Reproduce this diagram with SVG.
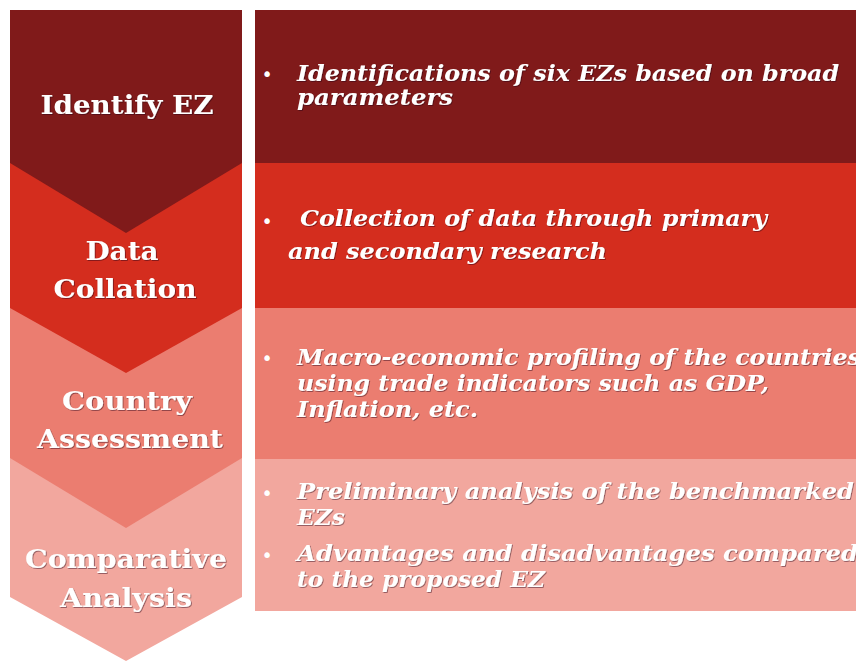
<svg xmlns="http://www.w3.org/2000/svg" width="856" height="661" viewBox="0 0 856 661">
<defs>
<filter id="sh" x="-5%" y="-20%" width="110%" height="140%">
<feDropShadow dx="0.8" dy="0.8" stdDeviation="0.6" flood-color="#1a0010" flood-opacity="0.55"/>
</filter>
<style>
.c1{fill:#801a1a}.c2{fill:#d42d1e}.c3{fill:#eb7d70}.c4{fill:#f2a79e}
.lbl{font-family:"DejaVu Serif","Liberation Serif",serif;font-weight:bold;font-size:26px;fill:#fff;text-anchor:middle;filter:url(#sh)}
.txt{font-family:"DejaVu Serif","Liberation Serif",serif;font-weight:bold;font-style:italic;font-size:22px;fill:#fff;filter:url(#sh)}
.bul{font-family:"DejaVu Sans",sans-serif;font-size:19px;fill:#fff;text-anchor:middle}
</style>
</defs>
<rect width="856" height="661" fill="#ffffff"/>
<g id="connectors"/>
<g id="step4">
<polygon class="c4" points="10,458 242,458 242,597 126,661 10,597"/>
<rect class="c4" x="255" y="459" width="601" height="152"/>
<text class="lbl" x="126" y="568" textLength="202" lengthAdjust="spacingAndGlyphs">Comparative</text>
<text class="lbl" x="126" y="607" textLength="132" lengthAdjust="spacingAndGlyphs">Analysis</text>
<text class="bul" x="267" y="500">•</text>
<text class="txt" x="297" y="499" textLength="557" lengthAdjust="spacingAndGlyphs">Preliminary analysis of the benchmarked</text>
<text class="txt" x="297" y="525" textLength="48" lengthAdjust="spacingAndGlyphs">EZs</text>
<text class="bul" x="267" y="562">•</text>
<text class="txt" x="297" y="561" textLength="561" lengthAdjust="spacingAndGlyphs">Advantages and disadvantages compared</text>
<text class="txt" x="297" y="587" textLength="248" lengthAdjust="spacingAndGlyphs">to the proposed EZ</text>
</g>
<g id="step3">
<polygon class="c3" points="10,308 242,308 242,458 126,528 10,458"/>
<rect class="c3" x="255" y="308" width="601" height="151"/>
<text class="lbl" x="127" y="410" textLength="130" lengthAdjust="spacingAndGlyphs">Country</text>
<text class="lbl" x="130" y="448" textLength="186" lengthAdjust="spacingAndGlyphs">Assessment</text>
<text class="bul" x="267" y="365">•</text>
<text class="txt" x="297" y="365" textLength="564" lengthAdjust="spacingAndGlyphs">Macro-economic profiling of the countries</text>
<text class="txt" x="297" y="391" textLength="472" lengthAdjust="spacingAndGlyphs">using trade indicators such as GDP,</text>
<text class="txt" x="297" y="417" textLength="181" lengthAdjust="spacingAndGlyphs">Inflation, etc.</text>
</g>
<g id="step2">
<polygon class="c2" points="10,163 242,163 242,308 126,373 10,308"/>
<rect class="c2" x="255" y="163" width="601" height="145"/>
<text class="lbl" x="122" y="260" textLength="73" lengthAdjust="spacingAndGlyphs">Data</text>
<text class="lbl" x="125" y="298" textLength="143" lengthAdjust="spacingAndGlyphs">Collation</text>
<text class="bul" x="267" y="228">•</text>
<text class="txt" x="300" y="226" textLength="467" lengthAdjust="spacingAndGlyphs">Collection of data through primary</text>
<text class="txt" x="288" y="259" textLength="319" lengthAdjust="spacingAndGlyphs">and secondary research</text>
</g>
<g id="step1">
<polygon class="c1" points="10,10 242,10 242,163 126,233 10,163"/>
<rect class="c1" x="255" y="10" width="601" height="153"/>
<text class="lbl" x="127" y="114" textLength="173" lengthAdjust="spacingAndGlyphs">Identify EZ</text>
<text class="bul" x="267" y="81">•</text>
<text class="txt" x="297" y="81" textLength="542" lengthAdjust="spacingAndGlyphs">Identifications of six EZs based on broad</text>
<text class="txt" x="297" y="105" textLength="156" lengthAdjust="spacingAndGlyphs">parameters</text>
</g>
</svg>
